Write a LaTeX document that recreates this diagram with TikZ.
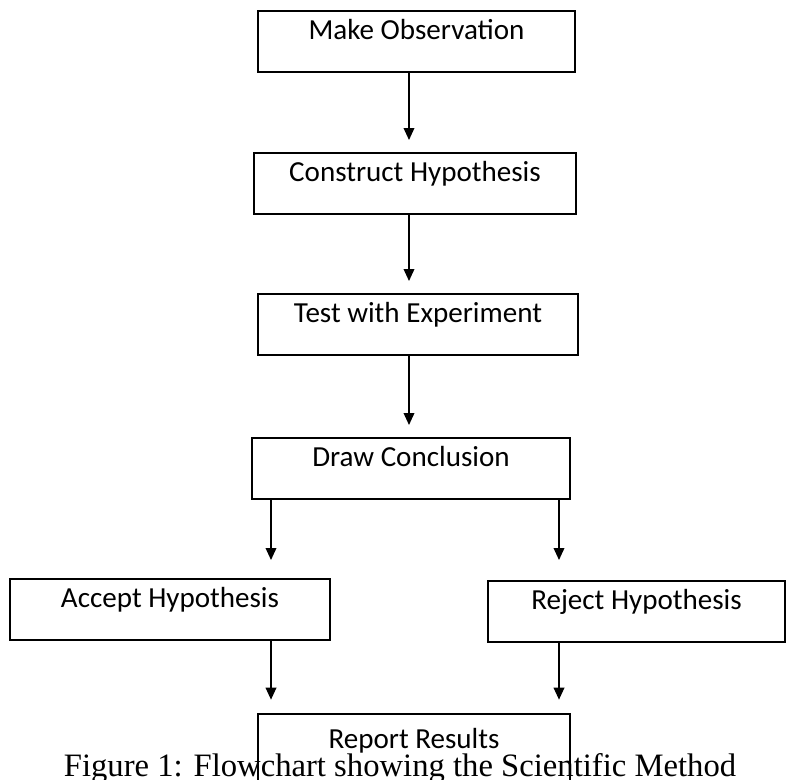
\documentclass[tikz,border=0pt]{standalone}
\usepackage{fontspec}
\setmainfont{Carlito}
\newfontfamily\capfont{Liberation Serif}
\usetikzlibrary{arrows.meta}

\begin{document}
\begin{tikzpicture}[x=0.75pt,y=-0.75pt,
    stepbox/.style={draw, line width=1.5pt, anchor=north, inner sep=0pt,
      text height=21pt, text depth=25pt,
      font=\fontsize{21.8}{26}\selectfont},
    flow/.style={line width=1.1pt, -{Triangle[width=8pt,length=9pt]}}]
  \useasboundingbox (0,0) rectangle (796,779);
  \clip (0,0) rectangle (796,779);

  % columns for the connectors
  \coordinate (spine) at (409,0);
  \coordinate (lcol) at (271,0);
  \coordinate (rcol) at (559,0);

  \node (obs) at (416.5,10) [stepbox, minimum width=237.75pt] {Make Observation};
  \node (hyp) at (415,152) [stepbox, minimum width=241.5pt] {Construct Hypothesis};
  \node (test) at (418,293) [stepbox, minimum width=240pt] {Test with Experiment};
  \node (concl) at (411,437) [stepbox, minimum width=238.5pt] {Draw Conclusion};
  \node (accept) at (170,578) [stepbox, minimum width=240pt] {Accept Hypothesis};
  \node (reject) at (636.5,580) [stepbox, minimum width=222.75pt] {Reject Hypothesis};
  \node (report) at (414,713) [stepbox, minimum width=234pt,
    text height=25.5pt, text depth=60pt] {Report Results};

  \node (cap) at (400,776) [anchor=base, font=\capfont\fontsize{24.5}{28}\selectfont]
    {Figure 1: Flowchart showing the Scientific Method};

  \draw[flow, shorten >=9pt] (obs.south -| spine) -- (hyp.north -| spine);
  \draw[flow, shorten >=9pt] (hyp.south -| spine) -- (test.north -| spine);
  \draw[flow, shorten >=9pt] (test.south -| spine) -- (concl.north -| spine);

  \draw[flow, shorten >=13.5pt] (concl.south -| lcol) -- (accept.north -| lcol);
  \draw[flow, shorten >=15pt] (concl.south -| rcol) -- (reject.north -| rcol);
  \draw[flow, shorten >=10pt] (accept.south -| lcol) -- (report.north -| lcol);
  \draw[flow, shorten >=10pt] (reject.south -| rcol) -- (report.north -| rcol);
\end{tikzpicture}
\end{document}
